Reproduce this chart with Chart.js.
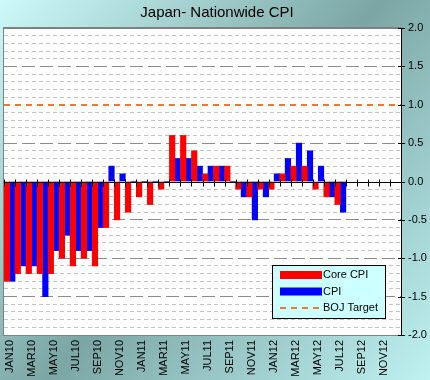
<!DOCTYPE html>
<html>
<head>
<meta charset="utf-8">
<script src="https://cdn.jsdelivr.net/npm/chart.js@4.4.1/dist/chart.umd.min.js"></script>
<style>
  html, body { margin: 0; padding: 0; background: #fff; }
</style>
</head>
<body>
<canvas id="grafico" width="430" height="380"></canvas>
<script>
// Dados do gráfico (variação anual, %)
const meses = ['JAN10','FEB10','MAR10','APR10','MAY10','JUN10','JUL10','AUG10','SEP10','OCT10','NOV10','DEC10',
               'JAN11','FEB11','MAR11','APR11','MAY11','JUN11','JUL11','AUG11','SEP11','OCT11','NOV11','DEC11',
               'JAN12','FEB12','MAR12','APR12','MAY12','JUN12','JUL12','AUG12','SEP12','OCT12','NOV12','DEC12'];
const coreCpi = [-1.3,-1.2,-1.2,-1.2,-1.2,-1.0,-1.1,-1.0,-1.1,-0.6,-0.5,-0.4,
                 -0.2,-0.3,-0.1, 0.6, 0.6, 0.4, 0.1, 0.2, 0.2,-0.1,-0.2,-0.1,
                 -0.1, 0.1, 0.2, 0.2,-0.1,-0.2,-0.3, null, null, null, null, null];
const cpi     = [-1.3,-1.1,-1.1,-1.5,-0.9,-0.7,-0.9,-0.9,-0.6, 0.2, 0.1, 0.0,
                  0.0, 0.0, 0.0, 0.3, 0.3, 0.2, 0.2, 0.2, 0.0,-0.2,-0.5,-0.2,
                  0.1, 0.3, 0.5, 0.4, 0.2,-0.2,-0.4, null, null, null, null, null];
const bojTarget = 1.0;
const yMin = -2, yMax = 2, yPassoMenor = 0.1, yPassoRotulo = 0.5;

const FONTE = '"Liberation Sans", Arial, sans-serif';
Chart.defaults.font.family = FONTE;
Chart.defaults.color = '#000';

// Estilo da meta do BOJ (linha tracejada laranja)
const meta = { label: 'BOJ Target', cor: '#f07830', largura: 2, tracejado: [6, 5] };

const perto = (a, b) => Math.abs(a - b) < 1e-6;

function ehMaior(v) {
    return perto(v / yPassoRotulo, Math.round(v / yPassoRotulo));
}

// Fundo degradê e área do gráfico branca
const fundoPlugin = {
    id: 'fundo',
    beforeDraw(chart) {
        const { ctx, width, height, chartArea: a } = chart;
        ctx.save();
        const g = ctx.createLinearGradient(0, 0, width, height);
        g.addColorStop(0, '#ccfafa');
        g.addColorStop(0.5, '#7ca6a6');
        g.addColorStop(1, '#c0f2f2');
        ctx.fillStyle = g;
        ctx.fillRect(0, 0, width, height);
        ctx.fillStyle = '#fff';
        ctx.fillRect(a.left, a.top, a.right - a.left, a.bottom - a.top);
        ctx.strokeStyle = '#808080';
        ctx.lineWidth = 1;
        ctx.strokeRect(Math.round(a.left) - 0.5, Math.round(a.top) - 0.5, a.right - a.left + 1, a.bottom - a.top + 1);
        ctx.restore();
    }
};

// Linha do zero com marcas e marcas cruzadas do eixo Y
const eixosPlugin = {
    id: 'eixos',
    afterDatasetsDraw(chart) {
        const { ctx, chartArea: a, scales: { x, y } } = chart;
        ctx.save();
        ctx.strokeStyle = '#000';
        ctx.lineWidth = 1;
        ctx.beginPath();
        const y0 = Math.round(y.getPixelForValue(0)) + 0.5;
        ctx.moveTo(a.left, y0);
        ctx.lineTo(a.right, y0);
        for (let i = 0; i <= meses.length; i++) {
            const px = Math.round(x.getPixelForValue(i - 0.5)) + 0.5;
            ctx.moveTo(px, y0 - 3);
            ctx.lineTo(px, y0 + 4);
        }
        y.ticks.forEach(t => {
            if (!ehMaior(t.value)) return;
            const py = Math.round(y.getPixelForValue(t.value)) + 0.5;
            ctx.moveTo(a.right - 3, py);
            ctx.lineTo(a.right + 4, py);
        });
        ctx.stroke();
        ctx.restore();
    }
};

// Legenda dentro da área do gráfico
const legendaPlugin = {
    id: 'legendaBox',
    afterDraw(chart) {
        const { ctx, chartArea: a } = chart;
        const w = 113, h = 53;
        const x0 = Math.round(a.right - 16 - w), y0 = Math.round(a.bottom - 17 - h);
        ctx.save();
        ctx.fillStyle = '#ccffff';
        ctx.fillRect(x0, y0, w, h);
        ctx.strokeStyle = '#000';
        ctx.lineWidth = 1;
        ctx.strokeRect(x0 + 0.5, y0 + 0.5, w, h);
        ctx.font = '11px ' + FONTE;
        ctx.textBaseline = 'middle';
        const itens = chart.data.datasets.map(ds => ({ label: ds.label, cor: ds.backgroundColor }));
        itens.push({ label: meta.label, linha: true });
        itens.forEach((it, i) => {
            const cy = y0 + 10 + i * 16.5;
            if (it.linha) {
                ctx.strokeStyle = meta.cor;
                ctx.lineWidth = meta.largura;
                ctx.setLineDash(meta.tracejado);
                ctx.beginPath();
                ctx.moveTo(x0 + 8, cy);
                ctx.lineTo(x0 + 50, cy);
                ctx.stroke();
                ctx.setLineDash([]);
            } else {
                ctx.fillStyle = it.cor;
                ctx.fillRect(x0 + 8, cy - 4, 42, 8);
            }
            ctx.fillStyle = '#000';
            ctx.fillText(it.label, x0 + 51, cy);
        });
        ctx.restore();
    }
};

function criarGrafico() {
    const ctx = document.getElementById('grafico').getContext('2d');
    new Chart(ctx, {
        type: 'bar',
        data: {
            labels: meses,
            datasets: [{
                label: 'Core CPI',
                data: coreCpi,
                backgroundColor: '#ff0000',
                categoryPercentage: 1,
                barPercentage: 1
            }, {
                label: 'CPI',
                data: cpi,
                backgroundColor: '#0000ff',
                categoryPercentage: 1,
                barPercentage: 1
            }]
        },
        options: {
            responsive: false,
            animation: false,
            events: [],
            layout: { padding: { left: 4, right: 0, top: 0, bottom: 0 } },
            plugins: {
                legend: { display: false },
                tooltip: { enabled: false },
                title: {
                    display: true,
                    text: 'Japan- Nationwide CPI',
                    color: '#000',
                    font: { size: 15, weight: 'normal' },
                    padding: { top: 4, bottom: 6 }
                }
            },
            scales: {
                x: {
                    offset: true,
                    grid: { display: false, drawTicks: false },
                    border: { display: false },
                    ticks: {
                        autoSkip: false,
                        maxRotation: 90,
                        minRotation: 90,
                        padding: 5,
                        font: { size: 11 },
                        color: '#000',
                        callback: function (val, i) {
                            return i % 2 === 0 ? this.getLabelForValue(val) : '';
                        }
                    },
                    afterFit: s => { s.height = 45; }
                },
                y: {
                    position: 'right',
                    min: yMin,
                    max: yMax,
                    grid: {
                        drawTicks: false,
                        lineWidth: c => perto(c.tick.value, bojTarget) ? meta.largura : 1,
                        color: c => {
                            const v = c.tick.value;
                            if (perto(v, bojTarget)) return meta.cor;
                            if (perto(v, 0)) return 'rgba(0,0,0,0)';
                            if (perto(Math.abs(v), yMax)) return '#808080';
                            return ehMaior(v) ? '#8c8c8c' : '#c4c4c4';
                        }
                    },
                    border: {
                        color: '#000',
                        width: 1,
                        dash: c => {
                            if (!c.tick) return [];
                            const v = c.tick.value;
                            if (perto(v, bojTarget)) return meta.tracejado;
                            if (perto(Math.abs(v), yMax)) return [];
                            return ehMaior(v) ? [13, 5] : [4, 3];
                        }
                    },
                    ticks: {
                        stepSize: yPassoMenor,
                        autoSkip: false,
                        padding: 7,
                        font: { size: 11 },
                        color: '#000',
                        callback: v => ehMaior(v) ? v.toFixed(1) : ''
                    },
                    afterFit: s => { s.width = 29; }
                }
            }
        },
        plugins: [fundoPlugin, eixosPlugin, legendaPlugin]
    });
}

document.addEventListener('DOMContentLoaded', criarGrafico);
</script>
</body>
</html>
